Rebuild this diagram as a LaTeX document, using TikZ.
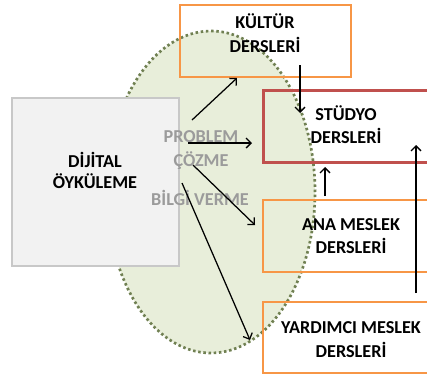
\documentclass[tikz,border=0pt]{standalone}
\usepackage{fontspec}
\setmainfont{Carlito}
\usetikzlibrary{arrows.meta,shapes.geometric}
\definecolor{boxorange}{RGB}{247,150,70}
\definecolor{boxred}{RGB}{192,80,77}
\definecolor{zonefill}{RGB}{232,238,218}
\definecolor{zoneedge}{RGB}{112,128,82}
\definecolor{greybox}{RGB}{242,242,242}
\definecolor{greyedge}{RGB}{200,200,200}
\definecolor{labelgrey}{RGB}{155,155,155}
\begin{document}
\begin{tikzpicture}[x=1pt,y=-1pt,
  course/.style={draw, line width=2.6pt, rectangle, inner sep=0pt, minimum height=72pt},
  lbl/.style={anchor=base, inner sep=0pt, font=\bfseries\fontsize{18.2}{24}\selectfont},
  glbl/.style={lbl, text=labelgrey},
  link/.style={-{Straight Barb[length=5pt,width=10pt]}, line width=1.25pt}]
\useasboundingbox (0,0) rectangle (427,381);
\clip (0,0) rectangle (427,381);

% shaded zone behind the courses
\node[ellipse, fill=zonefill, draw=zoneedge, line width=2.7pt,
      dash pattern=on 2.5pt off 2.7pt, minimum width=208pt, minimum height=322pt,
      inner sep=0pt] (zone) at (211,192) {};

% course boxes (open on the right)
\node[course, draw=boxorange, minimum width=171pt] (kultur) at (265.5,41) {};
\node[course, draw=boxred, line width=3pt, minimum width=170pt] (studyo) at (348,126) {};
\node[course, draw=boxorange, minimum width=170pt] (ana) at (348,236) {};
\node[course, draw=boxorange, minimum width=170pt, minimum height=71pt] (yardimci) at (348,337.5) {};

% digital storytelling box
\node[rectangle, fill=greybox, draw=greyedge, line width=2.5pt, inner sep=0pt,
      minimum width=167pt, minimum height=168pt] (dijital) at (95.5,182) {};

% box texts
\node[lbl] (kulturA) at (265,28) {KÜLTÜR};
\node[lbl] (kulturB) at (265,52) {DERSLERİ};
\node[lbl] (studyoA) at (346,120) {STÜDYO};
\node[lbl] (studyoB) at (346,143) {DERSLERİ};
\node[lbl] (anaA) at (351,230) {ANA MESLEK};
\node[lbl] (anaB) at (351,253) {DERSLERİ};
\node[lbl] (yardimciA) at (351,333) {YARDIMCI MESLEK};
\node[lbl] (yardimciB) at (351,357) {DERSLERİ};
\node[lbl] (dijitalA) at (95,167) {DİJİTAL};
\node[lbl] (dijitalB) at (95,188) {ÖYKÜLEME};

% method labels
\node[glbl] (problem) at (201,142) {PROBLEM};
\node[glbl] (cozme) at (201,166) {ÇÖZME};
\node[glbl] (bilgi) at (200,205) {BİLGİ VERME};

% arrow end points
\coordinate (s1) at (192,120);  \coordinate (e1) at (237,78);
\coordinate (s2) at (188,143);  \coordinate (e2) at (252,143);
\coordinate (s3) at (193,165);  \coordinate (e3) at (255,225);
\coordinate (s4) at (182,183);  \coordinate (e4) at (250,340);
\coordinate (s5) at (300,65);   \coordinate (e5) at (300,113);
\coordinate (s6) at (325,196);  \coordinate (e6) at (325,167);
\coordinate (s7) at (416,293);  \coordinate (e7) at (416,145);

\draw[link] (s1) -- (e1);
\draw[link] (s2) -- (e2);
\draw[link] (s3) -- (e3);
\draw[link] (s4) -- (e4);
\draw[link] (s5) -- (e5);
\draw[link] (s6) -- (e6);
\draw[link] (s7) -- (e7);
\end{tikzpicture}
\end{document}
